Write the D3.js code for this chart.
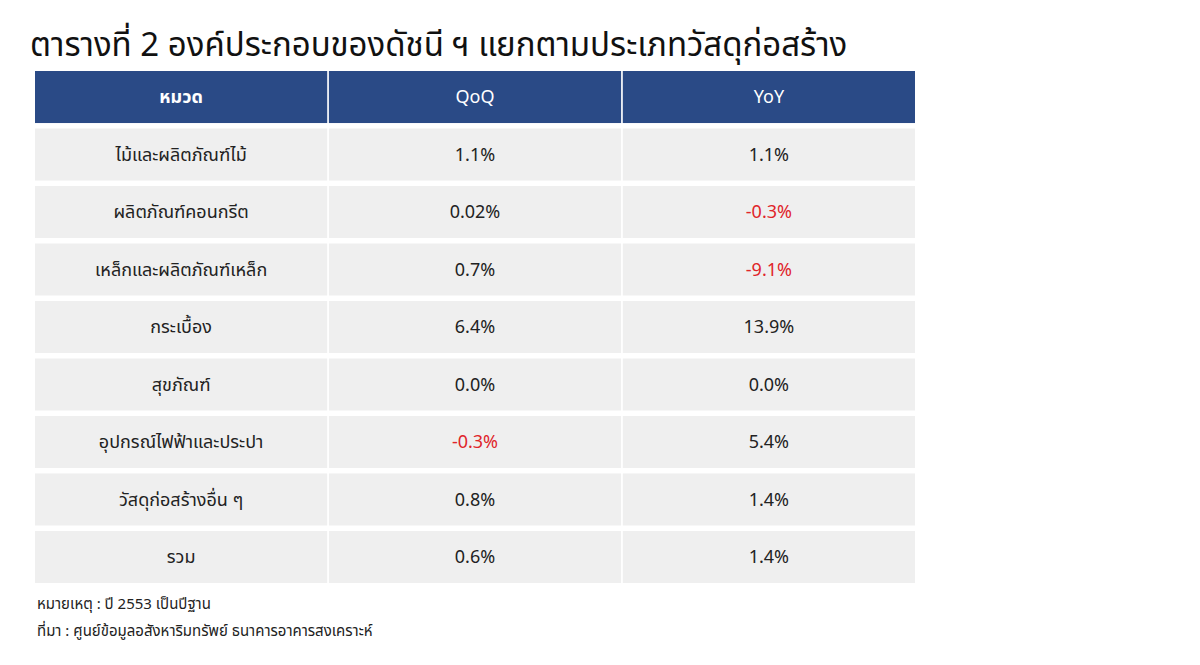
<!DOCTYPE html><html><head><meta charset="utf-8"><script src="https://cdn.jsdelivr.net/npm/d3@7"></script>
<style>body{margin:0;background:#fff}text{font-family:"Noto Sans Thai","Noto Sans","DejaVu Sans",sans-serif}</style></head><body>
<svg id="c" width="1200" height="665"></svg>
<script>
const title="ตารางที่ 2 องค์ประกอบของดัชนี ฯ แยกตามประเภทวัสดุก่อสร้าง";
const headers=["หมวด","QoQ","YoY"];
const categories=["ไม้และผลิตภัณฑ์ไม้","ผลิตภัณฑ์คอนกรีต","เหล็กและผลิตภัณฑ์เหล็ก","กระเบื้อง","สุขภัณฑ์","อุปกรณ์ไฟฟ้าและประปา","วัสดุก่อสร้างอื่น ๆ","รวม"];
const qoq=[1.1,0.02,0.7,6.4,0.0,-0.3,0.8,0.6];
const yoy=[1.1,-0.3,-9.1,13.9,0.0,5.4,1.4,1.4];
const qoqLabels=["1.1%","0.02%","0.7%","6.4%","0.0%","-0.3%","0.8%","0.6%"];
const yoyLabels=["1.1%","-0.3%","-9.1%","13.9%","0.0%","5.4%","1.4%","1.4%"];
const notes=["หมายเหตุ : ปี 2553 เป็นปีฐาน","ที่มา : ศูนย์ข้อมูลอสังหาริมทรัพย์ ธนาคารอาคารสงเคราะห์"];

const svg=d3.select("#c");
svg.append("text").attr("x",30).attr("y",56).attr("font-size",33).attr("fill","#111").text(title);
const x=d3.scaleBand().domain(headers).range([35,915]).paddingInner(0.0057);
const y=d3.scaleBand().domain(["h",...categories]).range([71,583]).paddingInner(0.095);
const g=svg.append("g");
headers.forEach(h=>{
  g.append("rect").attr("x",x(h)).attr("y",y("h")).attr("width",x.bandwidth()).attr("height",y.bandwidth()).attr("fill","#2a4a86");
  g.append("text").attr("x",x(h)+x.bandwidth()/2).attr("y",y("h")+y.bandwidth()/2).attr("dy","0.35em").attr("text-anchor","middle").attr("fill","#fff").attr("font-size",18).attr("font-weight",h==="หมวด"?"bold":"normal").text(h);
});
categories.forEach((c,i)=>{
  const cells=[[c,0],[qoqLabels[i],qoq[i]],[yoyLabels[i],yoy[i]]];
  cells.forEach(([t,v],j)=>{
    const h=headers[j];
    g.append("rect").attr("x",x(h)).attr("y",y(c)).attr("width",x.bandwidth()).attr("height",y.bandwidth()).attr("fill","#efefef");
    g.append("text").attr("x",x(h)+x.bandwidth()/2).attr("y",y(c)+y.bandwidth()/2).attr("dy","0.35em").attr("text-anchor","middle").attr("font-size",18).attr("fill",v<0?"#e0252a":"#222").text(t);
  });
});
notes.forEach((n,i)=>svg.append("text").attr("x",37).attr("y",609+i*27).attr("font-size",15).attr("fill","#222").text(n));
</script></body></html>
